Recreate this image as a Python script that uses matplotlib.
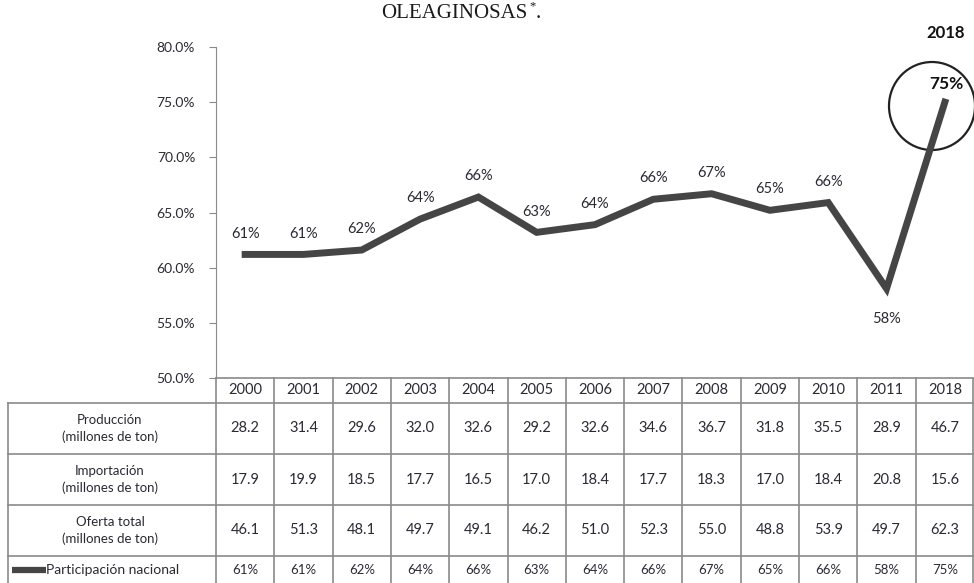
import matplotlib
matplotlib.use('Agg')
from matplotlib import pyplot as plt
from matplotlib.patches import Ellipse

plt.rcParams['font.family'] = ['Lato', 'DejaVu Sans']

years = ['2000', '2001', '2002', '2003', '2004', '2005', '2006',
         '2007', '2008', '2009', '2010', '2011', '2018']
produccion = [28.2, 31.4, 29.6, 32.0, 32.6, 29.2, 32.6, 34.6, 36.7, 31.8, 35.5, 28.9, 46.7]
importacion = [17.9, 19.9, 18.5, 17.7, 16.5, 17.0, 18.4, 17.7, 18.3, 17.0, 18.4, 20.8, 15.6]
oferta = [46.1, 51.3, 48.1, 49.7, 49.1, 46.2, 51.0, 52.3, 55.0, 48.8, 53.9, 49.7, 62.3]
participacion = [0.612, 0.612, 0.616, 0.644, 0.664, 0.632, 0.639, 0.662, 0.667, 0.652, 0.659, 0.581, 0.750]
part_labels = ['61%', '61%', '62%', '64%', '66%', '63%', '64%', '66%', '67%', '65%', '66%', '58%', '75%']
row_labels = ['Producción\n(millones de ton)', 'Importación\n(millones de ton)',
              'Oferta total\n(millones de ton)']

W, H = 974, 583
fig = plt.figure(figsize=(W / 100, H / 100), dpi=100)

# layout in pixels
x_left, x_right = 216, 974
y_top, y_axis = 47, 378
col_w = (x_right - x_left) / len(years)
row_y = [378, 403, 454, 505, 556, 590]
lab_left = 8
txt = '#2a2a35'
grid = '#8a8a8a'

ax = fig.add_axes([x_left / W, (H - y_axis) / H, (x_right - x_left) / W, (y_axis - y_top) / H])
xs = list(range(len(years)))
ax.plot(xs, participacion, color='#454545', lw=5, solid_joinstyle='miter', zorder=3)
ax.set_xlim(-0.5, len(years) - 0.5)
ax.set_ylim(0.5, 0.8)
ax.set_yticks([0.5, 0.55, 0.6, 0.65, 0.7, 0.75, 0.8])
ax.set_yticklabels(['50.0%', '55.0%', '60.0%', '65.0%', '70.0%', '75.0%', '80.0%'],
                   fontsize=10, color=txt)
ax.set_xticks([])
for s in ['top', 'right', 'bottom']:
    ax.spines[s].set_visible(False)
ax.spines['left'].set_color(grid)
ax.tick_params(axis='y', length=5, color=grid, pad=10)
ax.patch.set_alpha(0)

for i, (v, lab) in enumerate(zip(participacion, part_labels)):
    if i == len(years) - 1:
        continue
    if i == 11:
        ax.annotate(lab, (i, v), xytext=(0, -22), textcoords='offset points',
                    ha='center', va='center', fontsize=10.5, color=txt)
    else:
        ax.annotate(lab, (i, v), xytext=(0, 15), textcoords='offset points',
                    ha='center', va='center', fontsize=10.5, color=txt)

# overlay in pixel coordinates for table, title and circle
ov = fig.add_axes([0, 0, 1, 1], zorder=-1)
ov.set_xlim(0, W)
ov.set_ylim(H, 0)
ov.axis('off')

ov.text(527, 13, 'OLEAGINOSAS', family='Liberation Serif', fontsize=15,
        ha='right', va='center', color='#1a1a1a')
ov.text(529, 6, '*', family='Liberation Serif', fontsize=9, ha='left', va='center', color='#1a1a1a')
ov.text(536, 13, '.', family='Liberation Serif', fontsize=15, ha='left', va='center', color='#1a1a1a')

ov.text(946, 33, '2018', fontsize=12, fontweight='bold', ha='center', va='center', color='#111111')
ov.add_patch(Ellipse((932, 106), 86, 88, fill=False, ec='#222222', lw=1.6))
ov.text(946, 84, part_labels[-1], fontsize=12.5, fontweight='bold', ha='center', va='center',
        color='#111111')

# table grid
for k, y in enumerate(row_y[:-1]):
    x0 = x_left if k == 0 else lab_left
    ov.plot([x0, x_right - 1], [y, y], color=grid, lw=1.2)
for j in range(len(years) + 1):
    x = min(x_left + j * col_w, x_right - 1)
    ov.plot([x, x], [row_y[0], H], color=grid, lw=1.2)
ov.plot([lab_left, lab_left], [row_y[1], H], color=grid, lw=1.2)

for j, yr in enumerate(years):
    cx = x_left + (j + 0.5) * col_w
    ov.text(cx, (row_y[0] + row_y[1]) / 2, yr, fontsize=10.5, ha='center', va='center', color=txt)
    for r, vals in enumerate([produccion, importacion, oferta]):
        cy = (row_y[r + 1] + row_y[r + 2]) / 2
        ov.text(cx, cy, f'{vals[j]:.1f}', fontsize=10.5, ha='center', va='center', color=txt)
    ov.text(cx, (row_y[4] + 583) / 2, part_labels[j], fontsize=9.5, ha='center', va='center',
            color=txt)

lab_cx = (lab_left + x_left) / 2
for r, lab in enumerate(row_labels):
    cy = (row_y[r + 1] + row_y[r + 2]) / 2
    ov.text(lab_cx - 2, cy, lab, fontsize=9.5, ha='center', va='center', color=txt,
            linespacing=1.5)

ly = (row_y[4] + 583) / 2
ov.plot([12, 46], [ly, ly], color='#454545', lw=4.5, solid_capstyle='butt')
ov.text(46, ly, 'Participación nacional', fontsize=10, ha='left', va='center', color=txt)

fig.savefig('out.png', dpi=100)
